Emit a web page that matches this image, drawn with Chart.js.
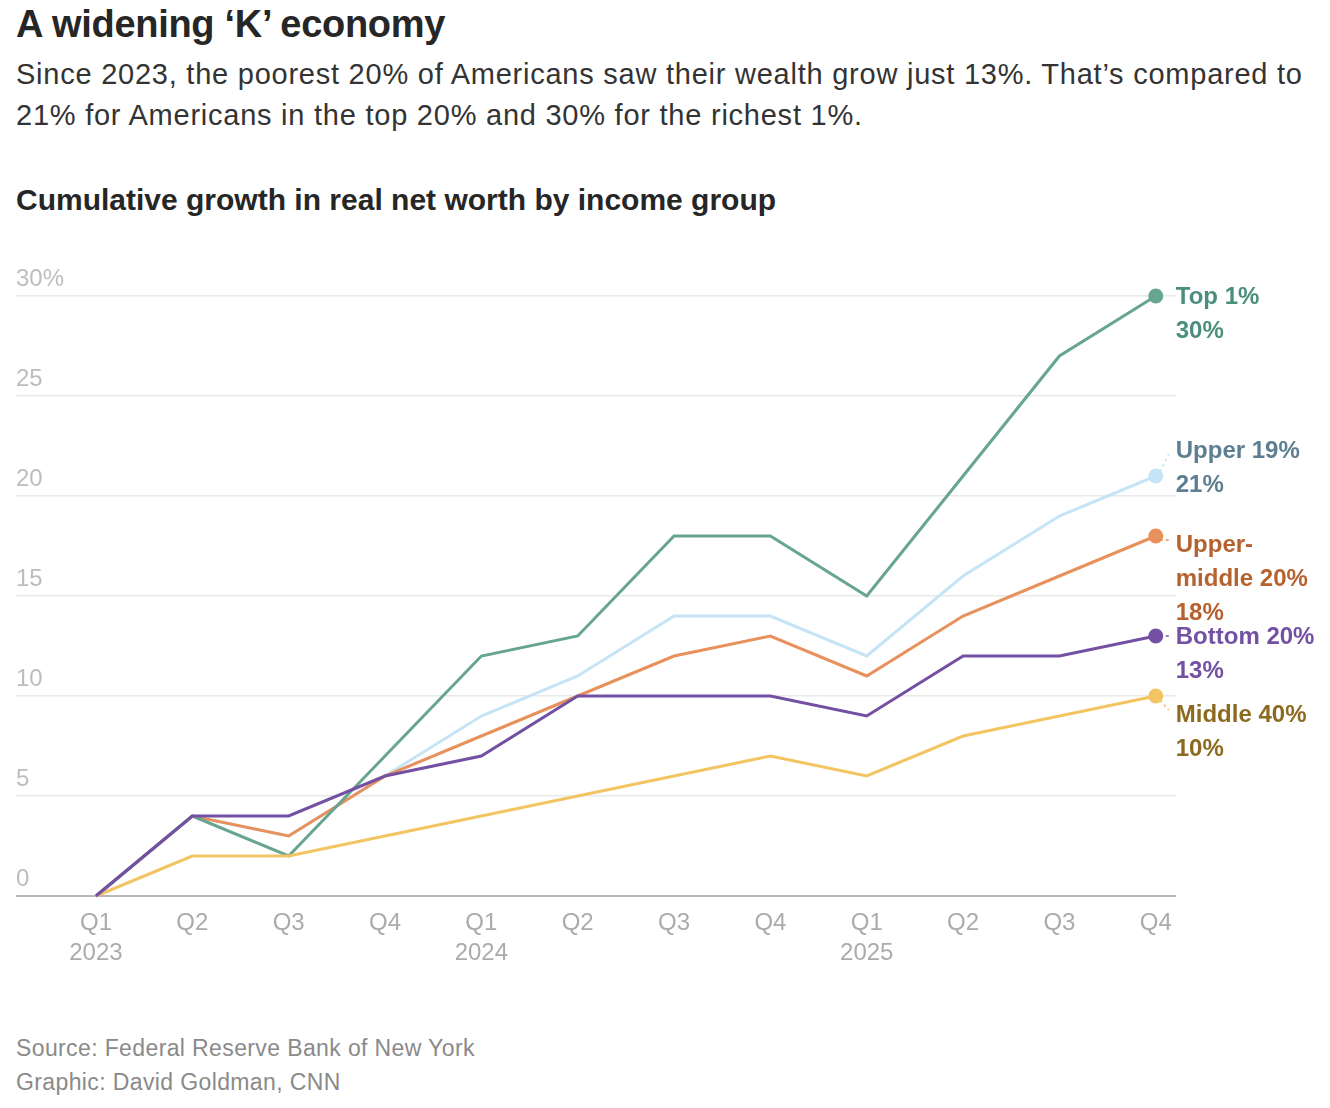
<!DOCTYPE html>
<html>
<head>
<meta charset="utf-8">
<script src="https://cdn.jsdelivr.net/npm/chart.js@4.4.1/dist/chart.umd.min.js"></script>
<style>
  body { margin: 0; background: #fff; font-family: "Liberation Sans", Arial, sans-serif; color: #262626; width: 1330px; height: 1108px; position: relative; overflow: hidden; }
  .t { position: absolute; left: 16px; white-space: nowrap; }
  #title { top: 3px; font-size: 38px; font-weight: bold; line-height: 42px; letter-spacing: -0.3px; }
  #sub { top: 54px; font-size: 29px; line-height: 41px; color: #333; letter-spacing: 0.76px; }
  #head { top: 180px; font-size: 30px; font-weight: bold; line-height: 40px; }
  #src { top: 1031px; font-size: 23px; line-height: 34px; color: #8a8a8a; letter-spacing: 0.38px; }
  #wrap { position: absolute; left: 0; top: 250px; width: 1330px; height: 750px; }
</style>
</head>
<body>
<div class="t" id="title">A widening ‘K’ economy</div>
<div class="t" id="sub">Since 2023, the poorest 20% of Americans saw their wealth grow just 13%. That’s compared to<br>21% for Americans in the top 20% and 30% for the richest 1%.</div>
<div class="t" id="head">Cumulative growth in real net worth by income group</div>
<div id="wrap"><canvas id="myChart" width="1330" height="750"></canvas></div>
<div class="t" id="src">Source: Federal Reserve Bank of New York<br>Graphic: David Goldman, CNN</div>

<script>
const quarters = ["Q1", "Q2", "Q3", "Q4", "Q1", "Q2", "Q3", "Q4", "Q1", "Q2", "Q3", "Q4"];
const years = ["2023", "", "", "", "2024", "", "", "", "2025", "", "", ""];

// cumulative growth, %
const top1 = [0, 4, 2, 7, 12, 13, 18, 18, 15, 21, 27, 30];
const upper19 = [0, 4, 3, 6, 9, 11, 14, 14, 12, 16, 19, 21];
const upperMiddle20 = [0, 4, 3, 6, 8, 10, 12, 13, 11, 14, 16, 18];
const bottom20 = [0, 4, 4, 6, 7, 10, 10, 10, 9, 12, 12, 13];
const middle40 = [0, 2, 2, 3, 4, 5, 6, 7, 6, 8, 9, 10];

const yTicks = [0, 5, 10, 15, 20, 25, 30];

function toPoints(arr) {
  return arr.map((v, i) => ({ x: i, y: v }));
}

function makeSet(name, values, color, textColor, lines, shift, leader) {
  return {
    label: name,
    data: toPoints(values),
    borderColor: color,
    backgroundColor: color,
    borderWidth: 3,
    pointRadius: (c) => (c.dataIndex === values.length - 1 ? 6 : 0),
    pointHoverRadius: 0,
    clip: false,
    tension: 0,
    endText: lines,
    endColor: textColor,
    labelShift: shift,
    leader: leader,
  };
}

// first in the list is drawn on top
const datasets = [
  makeSet("Bottom 20%", bottom20, "#7450a3", "#7450a3", ["Bottom 20%", "13%"], 0, true),
  makeSet("Middle 40%", middle40, "#f2c462", "#8c6a1f", ["Middle 40%", "10%"], 18, true),
  makeSet("Top 1%", top1, "#67a591", "#4a8f7c", ["Top 1%", "30%"], 0, false),
  makeSet("Upper-middle 20%", upperMiddle20, "#e8915c", "#b5622f", ["Upper-", "middle 20%", "18%"], 8, true),
  makeSet("Upper 19%", upper19, "#c5e4f5", "#5d7f91", ["Upper 19%", "21%"], -26, true),
];

const endLabels = {
  id: "endLabels",
  afterDatasetsDraw(chart) {
    const ctx = chart.ctx;
    chart.data.datasets.forEach((ds, i) => {
      const meta = chart.getDatasetMeta(i);
      const pt = meta.data[meta.data.length - 1];
      const x = pt.x + 20;
      const y = pt.y + ds.labelShift;
      ctx.save();
      if (ds.leader) {
        ctx.strokeStyle = ds.borderColor;
        ctx.lineWidth = 1.5;
        ctx.setLineDash([3, 3]);
        ctx.beginPath();
        ctx.moveTo(pt.x + 4, pt.y + (ds.labelShift > 0 ? 4 : ds.labelShift < 0 ? -4 : 0));
        ctx.lineTo(x - 7, y + (ds.labelShift > 0 ? -4 : ds.labelShift < 0 ? 4 : 0));
        ctx.stroke();
      }
      ctx.setLineDash([]);
      ctx.fillStyle = ds.endColor;
      ctx.font = "bold 24px 'Liberation Sans', Arial, sans-serif";
      ctx.textAlign = "left";
      ctx.textBaseline = "middle";
      ds.endText.forEach((line, k) => {
        ctx.fillText(line, x, y + 1 + k * 34);
      });
      ctx.restore();
    });
  },
};

const config = {
  type: "line",
  data: { datasets: datasets },
  options: {
    responsive: false,
    animation: false,
    events: [],
    layout: { padding: { left: 16, right: 154, top: 46, bottom: 20 } },
    plugins: { legend: { display: false }, tooltip: { enabled: false } },
    scales: {
      x: {
        type: "linear",
        min: -0.83,
        max: 11.21,
        afterBuildTicks: (axis) => {
          axis.ticks = quarters.map((q, i) => ({ value: i }));
        },
        grid: { display: false, drawTicks: false },
        border: { display: false },
        ticks: {
          autoSkip: false,
          maxRotation: 0,
          padding: 12,
          color: "#ababab",
          font: { family: "'Liberation Sans', Arial, sans-serif", size: 24, lineHeight: 1.25 },
          callback: (v) => (years[v] ? [quarters[v], years[v]] : quarters[v]),
        },
      },
      y: {
        min: 0,
        max: 30,
        afterBuildTicks: (axis) => {
          axis.ticks = yTicks.map((v) => ({ value: v }));
        },
        grid: {
          drawTicks: false,
          color: (c) => (c.tick.value === 0 ? "#b8b8b8" : "#e9e9e9"),
          lineWidth: (c) => (c.tick.value === 0 ? 2 : 1.5),
        },
        border: { display: false },
        ticks: {
          mirror: true,
          padding: 0,
          labelOffset: -17,
          color: "#bdbdbd",
          font: { family: "'Liberation Sans', Arial, sans-serif", size: 24 },
          callback: (v) => (v === 30 ? "30%" : String(v)),
        },
      },
    },
  },
  plugins: [endLabels],
};

const myChart = new Chart(document.getElementById("myChart"), config);
</script>
</body>
</html>
